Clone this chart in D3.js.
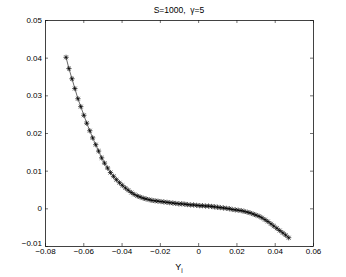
<!DOCTYPE html>
<html>
<head>
<meta charset="utf-8">
<script src="https://cdn.jsdelivr.net/npm/d3@7"></script>
<style>
  body { margin: 0; background: #fff; }
  text { font-family: "Liberation Sans", Arial, sans-serif; fill: #000; }
</style>
</head>
<body>
<div id="chart"></div>
<script>
// values
var xValues = [
  -0.0690, -0.0675, -0.0659, -0.0644, -0.0628, -0.0613, -0.0597, -0.0582, -0.0566, -0.0551,
  -0.0535, -0.0520, -0.0504, -0.0489, -0.0473, -0.0458, -0.0442, -0.0427, -0.0411, -0.0396,
  -0.0380, -0.0365, -0.0349, -0.0334, -0.0318, -0.0303, -0.0287, -0.0272, -0.0256, -0.0241,
  -0.0225, -0.0210, -0.0194, -0.0179, -0.0163, -0.0148, -0.0132, -0.0117, -0.0101, -0.0086,
  -0.0070, -0.0055, -0.0039, -0.0024, -0.0008, 0.0008, 0.0023, 0.0039, 0.0054, 0.0070,
  0.0085, 0.0101, 0.0116, 0.0132, 0.0147, 0.0163, 0.0178, 0.0194, 0.0209, 0.0225,
  0.0240, 0.0256, 0.0271, 0.0287, 0.0302, 0.0318, 0.0333, 0.0349, 0.0364, 0.0380,
  0.0395, 0.0411, 0.0426, 0.0442, 0.0457, 0.0473
];
var yValues = [
  0.0401, 0.0371, 0.0344, 0.0318, 0.0291, 0.0270, 0.0247, 0.0226, 0.0206, 0.0187,
  0.0169, 0.0152, 0.0134, 0.0120, 0.0107, 0.0095, 0.0085, 0.0076, 0.0068, 0.0061,
  0.0054, 0.0048, 0.0042, 0.0037, 0.0033, 0.0030, 0.0027, 0.0025, 0.0023, 0.0021,
  0.0020, 0.0019, 0.0018, 0.0017, 0.0016, 0.0015, 0.0014, 0.0013, 0.0012, 0.0012,
  0.0011, 0.0010, 0.0009, 0.0009, 0.0008, 0.0007, 0.0007, 0.0006, 0.0006, 0.0005,
  0.0004, 0.0003, 0.0002, 0.0001, 0.0000, -0.0001, -0.0003, -0.0004, -0.0005, -0.0006,
  -0.0008, -0.0010, -0.0012, -0.0015, -0.0018, -0.0021, -0.0025, -0.0030, -0.0035, -0.0041,
  -0.0047, -0.0053, -0.0059, -0.0065, -0.0071, -0.0078
];
var xTicks = [-0.08, -0.06, -0.04, -0.02, 0, 0.02, 0.04, 0.06];
var yTicks = [-0.01, 0, 0.01, 0.02, 0.03, 0.04, 0.05];
var titleText = "S=1000,  \u03b3=5";

// set the dimensions and margins of the graph
var margin = {top: 20, right: 33, bottom: 31, left: 45},
    width = 346 - margin.left - margin.right,
    height = 277 - margin.top - margin.bottom;

var x = d3.scaleLinear().domain([-0.08, 0.06]).range([0, width]);
var y = d3.scaleLinear().domain([-0.01, 0.05]).range([height, 0]);

var fmt = function(d) { return d === 0 ? "0" : d3.format(".2f")(d); };

var svg = d3.select("#chart").append("svg")
    .attr("width", width + margin.left + margin.right)
    .attr("height", height + margin.top + margin.bottom)
  .append("g")
    .attr("transform", "translate(" + margin.left + "," + margin.top + ")");

// box axes, ticks pointing inside
function styleAxis(g) {
  g.selectAll("path.domain").attr("stroke", "#111").attr("stroke-width", 0.8);
  g.selectAll(".tick line").attr("stroke", "#111").attr("stroke-width", 0.6);
  g.selectAll("text").attr("font-size", 8).attr("fill", "#000")
    .style("font-family", "'Liberation Sans', Arial, sans-serif");
}

svg.append("g")
    .attr("transform", "translate(0," + height + ")")
    .call(d3.axisBottom(x).tickValues(xTicks).tickFormat(fmt).tickSize(-3).tickSizeOuter(0).tickPadding(2))
    .call(styleAxis);

svg.append("g")
    .call(d3.axisTop(x).tickValues(xTicks).tickFormat("").tickSize(-3).tickSizeOuter(0))
    .call(styleAxis);

var yAxisG = svg.append("g")
    .call(d3.axisLeft(y).tickValues(yTicks).tickFormat(fmt).tickSize(-3).tickSizeOuter(0).tickPadding(3))
    .call(styleAxis);

// lift the lowest y label a little, as the reference does, so it clears -0.08
yAxisG.selectAll(".tick text")
    .filter(function(d) { return d === yTicks[0]; })
    .attr("dy", "-0.05em");

svg.append("g")
    .attr("transform", "translate(" + width + ",0)")
    .call(d3.axisRight(y).tickValues(yTicks).tickFormat("").tickSize(-3).tickSizeOuter(0))
    .call(styleAxis);

var data = xValues.map(function(d, i) { return {x: d, y: yValues[i]}; });

// the line
var valueline = d3.line()
    .x(function(d) { return x(d.x); })
    .y(function(d) { return y(d.y); });

svg.append("path")
    .datum(data)
    .attr("fill", "none")
    .attr("stroke", "#000")
    .attr("stroke-width", 0.6)
    .attr("d", valueline);

// asterisk markers (plus + cross)
var r = 2.6, q = 1.9;
var star = "M" + (-r) + ",0L" + r + ",0M0," + (-r) + "L0," + r +
           "M" + (-q) + "," + (-q) + "L" + q + "," + q +
           "M" + (-q) + "," + q + "L" + q + "," + (-q);

svg.selectAll(".mark")
    .data(data)
  .enter().append("path")
    .attr("class", "mark")
    .attr("transform", function(d) { return "translate(" + x(d.x) + "," + y(d.y) + ")"; })
    .attr("d", star)
    .attr("fill", "none")
    .attr("stroke", "#000")
    .attr("stroke-width", 0.7);

// title
svg.append("text")
    .attr("x", width / 2)
    .attr("y", -7)
    .attr("text-anchor", "middle")
    .attr("font-size", 8.5)
    .style("white-space", "pre")
    .text(titleText);

// x label Y_i
var xl = svg.append("text")
    .attr("x", width / 2)
    .attr("y", height + 24)
    .attr("text-anchor", "middle")
    .attr("font-size", 9);
xl.append("tspan").text("Y");
xl.append("tspan").attr("dy", 3).attr("font-size", 6.5).text("i");
</script>
</body>
</html>
